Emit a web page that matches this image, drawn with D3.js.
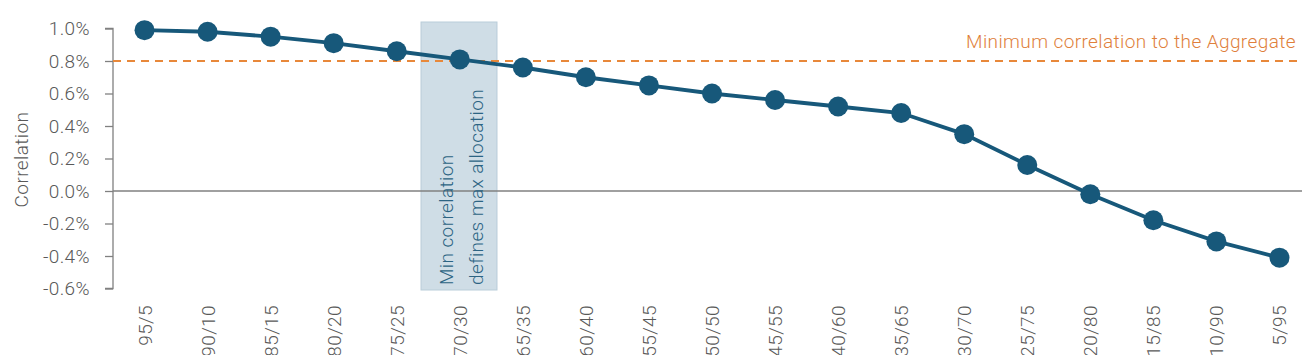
<!DOCTYPE html>
<html>
<head>
<meta charset="utf-8">
<script src="https://cdn.jsdelivr.net/npm/d3@7"></script>
<style>
  html, body { margin: 0; padding: 0; background: #fff; }
  svg { display: block; font-family: Roboto, "Noto Sans", sans-serif; font-weight: 300; }
  svg text { font-size: 19px; letter-spacing: 0.4px; }
</style>
</head>
<body>
<svg id="chart" width="1302" height="355"></svg>
<script>
// allocation mixes (x categories)
const MIXES = ["95/5", "90/10", "85/15", "80/20", "75/25", "70/30", "65/35", "60/40", "55/45", "50/50",
  "45/55", "40/60", "35/65", "30/70", "25/75", "20/80", "15/85", "10/90", "5/95"];
// correlation per mix (%)
const CORR = [0.99, 0.98, 0.95, 0.91, 0.86, 0.81, 0.76, 0.70, 0.65, 0.60,
  0.56, 0.52, 0.48, 0.35, 0.16, -0.02, -0.18, -0.31, -0.41];
const Y_TICKS = [1.0, 0.8, 0.6, 0.4, 0.2, 0.0, -0.2, -0.4, -0.6];
const MIN_CORR = 0.8;
const BAND_FROM = "75/25", BAND_TO = "65/35"; // shaded region sits between these

const svg = d3.select("#chart");
const axisX = 113, right = 1311;

const x = d3.scaleBand().domain(MIXES).range([axisX, right]);
const y = d3.scaleLinear().domain([-0.6, 1.0]).range([288.5, 28.5]);

// shaded "max allocation" box
const bx0 = x(BAND_FROM) + x.bandwidth() * 0.885;
const bx1 = x(BAND_TO) + x.bandwidth() * 0.09;
svg.append("rect")
  .attr("x", bx0).attr("y", 22).attr("width", bx1 - bx0).attr("height", 268)
  .attr("fill", "#cfdde6").attr("stroke", "#b9cdd9").attr("stroke-width", 1);

// zero line
svg.append("line")
  .attr("x1", axisX).attr("x2", 1302).attr("y1", y(0)).attr("y2", y(0))
  .attr("stroke", "#808080").attr("stroke-width", 1.5);

// y axis
const yAxis = svg.append("g").attr("transform", `translate(${axisX},0)`)
  .call(d3.axisLeft(y).tickValues(Y_TICKS).tickSize(8).tickPadding(15)
    .tickFormat(d => d.toFixed(1) + "%"));
yAxis.select(".domain").attr("stroke", "#808080").attr("stroke-width", 1.3)
  .attr("d", `M-8,${y(1.0)}H0V${y(-0.6)}H-8`);
yAxis.selectAll(".tick line").attr("stroke", "#808080").attr("stroke-width", 1.3);
yAxis.selectAll(".tick text").attr("fill", "#595959")
  .style("font-family", "Roboto").style("font-weight", 300).style("font-size", "19px");

svg.append("text")
  .attr("transform", `translate(28,${(y(1.0) + y(-0.6)) / 2 + 1}) rotate(-90)`)
  .attr("text-anchor", "middle").attr("fill", "#595959")
  .text("Correlation");

// x labels (rotated)
svg.append("g").selectAll("text").data(MIXES).join("text")
  .attr("transform", d => `translate(${x(d) + x.bandwidth() / 2 + 7},305) rotate(-90)`)
  .attr("text-anchor", "end").attr("fill", "#595959")
  .text(d => d);

// band annotation
const annot = svg.append("text").attr("fill", "#2c6483")
  .attr("transform", `translate(${(bx0 + bx1) / 2},285) rotate(-90)`);
annot.append("tspan").attr("x", 0).attr("y", -6).text("Min correlation");
annot.append("tspan").attr("x", 0).attr("y", 24).text("defines max allocation");

// minimum correlation line
svg.append("line")
  .attr("x1", axisX).attr("x2", 1302).attr("y1", y(MIN_CORR)).attr("y2", y(MIN_CORR))
  .attr("stroke", "#e8883a").attr("stroke-width", 2.2).attr("stroke-dasharray", "8,6");
svg.append("text")
  .attr("x", 1296).attr("y", y(MIN_CORR) - 13).attr("text-anchor", "end")
  .attr("fill", "#e07f3c")
  .text("Minimum correlation to the Aggregate");

// series
const pts = MIXES.map((m, i) => ({ m, v: CORR[i] }));
svg.append("path").datum(pts)
  .attr("fill", "none").attr("stroke", "#17587a").attr("stroke-width", 3.8)
  .attr("d", d3.line().x(d => x(d.m) + x.bandwidth() / 2).y(d => y(d.v)));
svg.append("g").selectAll("circle").data(pts).join("circle")
  .attr("cx", d => x(d.m) + x.bandwidth() / 2).attr("cy", d => y(d.v))
  .attr("r", 10).attr("fill", "#17587a");
</script>
</body>
</html>
